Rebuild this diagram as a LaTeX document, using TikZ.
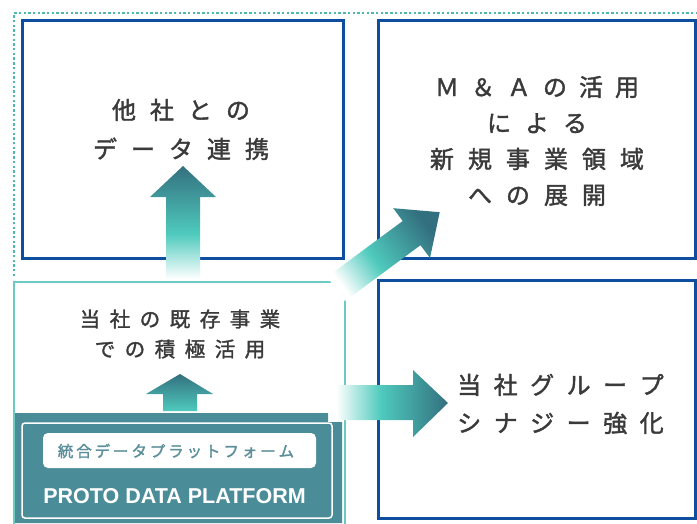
\documentclass[tikz,border=0pt]{standalone}
\usepackage{fontspec}
\newfontfamily\jp[FakeBold=1.6]{Noto Sans CJK JP}
\newfontfamily\jpb[FakeBold=1.8]{Noto Sans CJK JP}
\newfontfamily\lat{Liberation Sans}
\definecolor{boxblue}{HTML}{0D4F9E}
\definecolor{dotteal}{HTML}{4DB8AE}
\definecolor{outteal}{HTML}{6CCAC2}
\definecolor{panel}{HTML}{4B8C99}
\definecolor{tealL}{HTML}{4FCABD}
\definecolor{tealD}{HTML}{33707F}
\definecolor{txtgray}{HTML}{3A3A3A}
\definecolor{labtxt}{HTML}{5B8E99}
\pgfdeclarehorizontalshading{fadearrow}{100bp}{color(0bp)=(white); color(25bp)=(white); color(45bp)=(tealL); color(75bp)=(tealD); color(100bp)=(tealD)}
\pgfdeclarehorizontalshading{solidarrow}{100bp}{color(0bp)=(tealL); color(25bp)=(tealL); color(75bp)=(tealD); color(100bp)=(tealD)}
\makeatletter
\def\lsp#1#2{\def\ls@gap{#1}\ls@i#2\relax\unkern}
\def\ls@i#1{\ifx\relax#1\else#1\kern\ls@gap\expandafter\ls@i\fi}
\makeatother
\tikzset{
  bluebox/.style={draw=boxblue, line width=3pt, minimum width=#1, minimum height=238pt, inner sep=0pt},
  jptext/.style={text=txtgray, inner sep=0pt, align=center},
  dots/.style={draw=dotteal, line width=2.5pt, dash pattern=on 2.4pt off 2.3pt},
}
\begin{document}
\begin{tikzpicture}[x=1pt, y=-1pt]
\useasboundingbox (0,0) rectangle (697,523);
\clip (0,0) rectangle (697,523);
% dotted frame
\draw[dots] (14,276) -- (14,13) -- (697,13);
% blue boxes
\node[bluebox=321pt] (tl) at (182.5,139) {};
\node[bluebox=317pt] (tr) at (536.5,139) {};
\node[bluebox=317pt] (br) at (536.5,399) {};
% teal lower-left box
\draw[outteal, line width=2pt] (14,282) rectangle (345,540);
\fill[panel] (15,413) -- (328,413) -- (328,422) -- (342,422) -- (342,523) -- (15,523) -- cycle;
\draw[white, line width=1.5pt, rounded corners=3pt] (22,423) rectangle (332,518);
\node[fill=white, rounded corners=5pt, minimum width=273pt, minimum height=35pt, inner sep=0pt] (lab) at (179.5,450.5) {};
\node[text=labtxt, inner sep=0pt, font=\jpb\fontsize{15.5}{18}\selectfont] (labt) at (176,451) {\lsp{2.9pt}{統合データプラットフォーム}};
\node[text=white, inner sep=0pt, anchor=base, font=\lat\bfseries\fontsize{21.5}{22}\selectfont] (proto) at (174.5,503) {PROTO DATA PLATFORM};
% texts
\node[jptext, font=\jp\fontsize{24}{39}\selectfont] (tlt) at (181,129.5) {\lsp{14pt}{他社との}\\\lsp{14pt}{データ連携}};
\node[jptext, font=\jp\fontsize{24}{36}\selectfont] (trt) at (537,141) {\lsp{12pt}{Ｍ＆Ａの活用}\\\lsp{14pt}{による}\\\lsp{14pt}{新規事業領域}\\\lsp{14pt}{への展開}};
\node[jptext, align=left, anchor=west, font=\jp\fontsize{24}{38}\selectfont] (brt) at (457,404) {\lsp{12.5pt}{当社グループ}\\\lsp{12.5pt}{シナジー強化}};
\node[jptext, font=\jp\fontsize{20.5}{30}\selectfont] (blt) at (180,334) {\lsp{9.5pt}{当社の既存事業}\\\lsp{9.5pt}{での積極活用}};
% arrows
\shade[shading=fadearrow, shading angle=90] (166,279) -- (166,197) -- (150,197) -- (183,166) -- (216,197) -- (200,197) -- (200,279) -- cycle;
\shade[shading=solidarrow, shading angle=90] (163,411) -- (163,394) -- (146,394) -- (180,374) -- (213,394) -- (197,394) -- (197,411) -- cycle;
\shade[shading=fadearrow, shading angle=0] (336,385) -- (413,385) -- (413,370) -- (448,403) -- (413,437) -- (413,420) -- (336,420) -- cycle;
\shade[shading=fadearrow, shading angle=36.5] (327.1,276.9) -- (402.7,221.0) -- (393.2,208.2) -- (439.7,212.2) -- (430.0,258.0) -- (420.5,245.2) -- (344.9,301.1) -- cycle;
\end{tikzpicture}
\end{document}
